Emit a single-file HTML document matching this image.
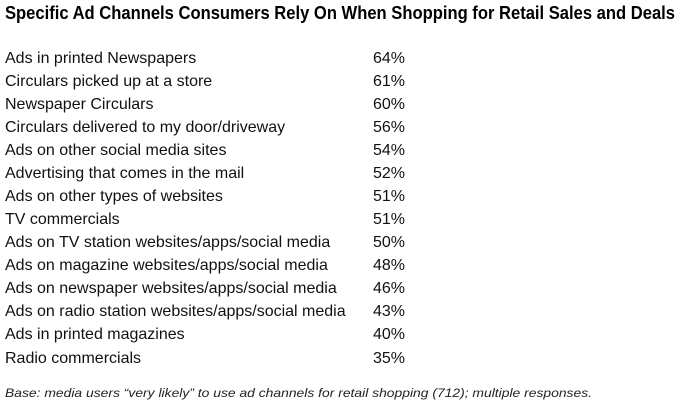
<!DOCTYPE html>
<html><head><style>html,body{margin:0;padding:0;background:#fff}</style></head>
<body>
<svg width="680" height="404" xmlns="http://www.w3.org/2000/svg" font-family="Liberation Sans, sans-serif" fill="#000">
<text x="5" y="19" font-size="18" font-weight="bold" textLength="670" lengthAdjust="spacingAndGlyphs">Specific Ad Channels Consumers Rely On When Shopping for Retail Sales and Deals</text>
<g font-size="16" fill="#111">
<text x="5" y="63">Ads in printed Newspapers</text><text x="373" y="63">64%</text>
<text x="5" y="86">Circulars picked up at a store</text><text x="373" y="86">61%</text>
<text x="5" y="109">Newspaper Circulars</text><text x="373" y="109">60%</text>
<text x="5" y="132">Circulars delivered to my door/driveway</text><text x="373" y="132">56%</text>
<text x="5" y="155">Ads on other social media sites</text><text x="373" y="155">54%</text>
<text x="5" y="178">Advertising that comes in the mail</text><text x="373" y="178">52%</text>
<text x="5" y="201">Ads on other types of websites</text><text x="373" y="201">51%</text>
<text x="5" y="224">TV commercials</text><text x="373" y="224">51%</text>
<text x="5" y="247">Ads on TV station websites/apps/social media</text><text x="373" y="247">50%</text>
<text x="5" y="270">Ads on magazine websites/apps/social media</text><text x="373" y="270">48%</text>
<text x="5" y="293">Ads on newspaper websites/apps/social media</text><text x="373" y="293">46%</text>
<text x="5" y="316">Ads on radio station websites/apps/social media</text><text x="373" y="316">43%</text>
<text x="5" y="339">Ads in printed magazines</text><text x="373" y="339">40%</text>
<text x="5" y="363">Radio commercials</text><text x="373" y="363">35%</text>
</g>
<text x="5" y="397" font-size="12" font-style="italic" fill="#222" textLength="587" lengthAdjust="spacingAndGlyphs">Base: media users “very likely” to use ad channels for retail shopping (712); multiple responses.</text>
</svg>
</body></html>
